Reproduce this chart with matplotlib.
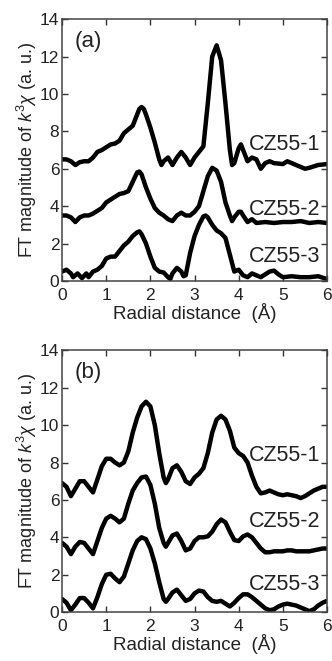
import numpy as np
import matplotlib
matplotlib.use("Agg")
from matplotlib import pyplot as plt

plt.rcParams['font.family'] = ['Liberation Sans', 'DejaVu Sans']
plt.rcParams['mathtext.fontset'] = 'custom'
plt.rcParams['mathtext.it'] = 'Liberation Sans:italic'
plt.rcParams['mathtext.rm'] = 'Liberation Sans'

# ---- panel (a) ----
a1_x = [0, 0.1, 0.2, 0.3, 0.4, 0.5, 0.6, 0.7, 0.8, 0.9, 1.0, 1.1, 1.2, 1.3, 1.4, 1.5, 1.6, 1.7, 1.75, 1.8,
        1.85, 1.9, 2.0, 2.1, 2.2, 2.25, 2.3, 2.4, 2.5, 2.6, 2.7, 2.8, 2.9, 3.0, 3.1, 3.2, 3.3, 3.4, 3.5, 3.6,
        3.7, 3.8, 3.85, 3.9, 4.0, 4.05, 4.1, 4.2, 4.3, 4.4, 4.5, 4.6, 4.7, 4.8, 5.0, 5.1, 5.2, 5.3, 5.5, 5.6,
        5.8, 6.0]
a1_y = [6.5, 6.5, 6.4, 6.2, 6.35, 6.4, 6.4, 6.6, 6.9, 7.0, 7.15, 7.3, 7.35, 7.5, 7.9, 8.1, 8.3, 8.9, 9.2, 9.3,
        9.2, 8.9, 8.2, 7.4, 6.5, 6.2, 6.4, 6.6, 6.2, 6.6, 6.9, 6.6, 6.2, 6.6, 6.9, 7.2, 9.5, 12.0, 12.6, 11.8,
        9.5, 7.0, 6.2, 6.3, 7.1, 7.3, 7.0, 6.4, 6.6, 6.5, 6.0, 6.3, 6.4, 6.3, 6.25, 6.4, 6.3, 6.2, 6.0, 6.05,
        6.2, 6.25]

a2_x = [0, 0.1, 0.2, 0.3, 0.4, 0.5, 0.6, 0.7, 0.8, 0.9, 1.0, 1.1, 1.2, 1.3, 1.4, 1.5, 1.6, 1.7, 1.75, 1.8,
        1.9, 2.0, 2.1, 2.2, 2.3, 2.4, 2.5, 2.6, 2.7, 2.8, 2.9, 3.0, 3.1, 3.2, 3.3, 3.4, 3.5, 3.6, 3.7, 3.8,
        3.85, 3.9, 4.0, 4.05, 4.1, 4.2, 4.3, 4.4, 4.6, 4.8, 5.0, 5.2, 5.4, 5.6, 5.8, 6.0]
a2_y = [3.5, 3.5, 3.4, 3.15, 3.4, 3.5, 3.5, 3.6, 3.75, 3.9, 4.2, 4.35, 4.5, 4.65, 4.7, 4.8, 5.3, 5.8, 5.85, 5.7,
        5.0, 4.4, 3.9, 3.65, 3.5, 3.3, 3.2, 3.5, 3.65, 3.5, 3.5, 3.7, 4.0, 4.8, 5.6, 6.05, 5.9, 5.3, 4.2, 3.5,
        3.2, 3.4, 3.7, 3.7, 3.5, 3.15, 3.3, 3.1, 3.15, 3.1, 3.15, 3.15, 3.2, 3.1, 3.15, 3.1]

a3_x = [0, 0.1, 0.2, 0.25, 0.35, 0.45, 0.55, 0.6, 0.7, 0.8, 0.9, 1.0, 1.1, 1.2, 1.3, 1.4, 1.5, 1.6, 1.7, 1.75,
        1.8, 1.9, 2.0, 2.1, 2.2, 2.3, 2.4, 2.45, 2.5, 2.6, 2.7, 2.75, 2.8, 2.9, 3.0, 3.1, 3.2, 3.25, 3.3, 3.4,
        3.5, 3.6, 3.7, 3.8, 3.9, 4.0, 4.1, 4.2, 4.3, 4.4, 4.5, 4.6, 4.7, 4.8, 4.9, 5.0, 5.2, 5.4, 5.6, 5.8, 6.0]
a3_y = [0.5, 0.6, 0.4, 0.2, 0.4, 0.15, 0.4, 0.2, 0.5, 0.6, 0.8, 1.2, 1.3, 1.3, 1.6, 1.9, 2.1, 2.4, 2.6, 2.65,
        2.5, 2.0, 1.3, 0.7, 0.5, 0.45, 0.2, 0.1, 0.4, 0.7, 0.5, 0.25, 0.3, 1.5, 2.4, 3.0, 3.45, 3.5, 3.4, 3.0,
        2.7, 2.55, 2.3, 1.4, 0.5, 0.6, 0.3, 0.2, 0.4, 0.3, 0.2, 0.35, 0.5, 0.55, 0.35, 0.2, 0.25, 0.2, 0.2, 0.25, 0.1]

# ---- panel (b) ----
b_x = [0, 0.1, 0.2, 0.3, 0.4, 0.5, 0.6, 0.7, 0.8, 0.9, 1.0, 1.1, 1.2, 1.3, 1.4, 1.5, 1.6, 1.7, 1.8, 1.9,
       2.0, 2.1, 2.2, 2.3, 2.35, 2.4, 2.5, 2.6, 2.7, 2.8, 2.9, 3.0, 3.1, 3.2, 3.3, 3.4, 3.5, 3.6, 3.7, 3.8,
       3.9, 4.0, 4.1, 4.2, 4.3, 4.4, 4.5, 4.6, 4.7, 4.8, 4.9, 5.0, 5.1, 5.2, 5.3, 5.4, 5.5, 5.6, 5.7, 5.8,
       5.9, 6.0]
b1_y = [6.9, 6.7, 6.2, 6.6, 7.0, 7.0, 6.7, 6.4, 7.1, 7.8, 8.2, 8.2, 8.0, 7.85, 8.0, 8.6, 9.6, 10.4, 11.0, 11.25,
        11.0, 10.0, 8.5, 7.2, 6.9, 7.1, 7.7, 7.85, 7.5, 7.0, 6.85, 7.2, 7.4, 7.7, 8.5, 9.6, 10.3, 10.5, 10.3, 9.7,
        8.8, 8.5, 8.35, 8.0, 7.3, 6.7, 6.35, 6.4, 6.5, 6.4, 6.3, 6.25, 6.3, 6.25, 6.2, 6.1, 6.2, 6.35, 6.5, 6.6,
        6.7, 6.7]
b2_y = [3.7, 3.5, 3.1, 3.5, 3.75, 3.7, 3.4, 3.1, 3.8, 4.5, 5.0, 5.15, 5.0, 4.8, 5.0, 5.8, 6.5, 6.9, 7.2, 7.25,
        6.8, 5.8, 4.5, 3.7, 3.5, 3.7, 4.1, 4.2, 3.8, 3.3, 3.4, 3.8, 4.0, 4.0, 4.05, 4.3, 4.7, 4.95, 4.8, 4.3,
        3.85, 3.8, 4.05, 4.15, 4.0, 3.7, 3.4, 3.2, 3.2, 3.25, 3.25, 3.25, 3.3, 3.3, 3.25, 3.25, 3.25, 3.25, 3.3, 3.35,
        3.4, 3.4]
b3_y = [0.7, 0.5, 0.1, 0.4, 0.75, 0.75, 0.5, 0.2, 0.8, 1.5, 2.0, 2.05, 1.8, 1.6, 1.9, 2.6, 3.3, 3.8, 4.0, 3.9,
        3.4, 2.6, 1.6, 0.7, 0.55, 0.7, 1.05, 1.2, 0.9, 0.6, 0.7, 1.0, 1.15, 1.1, 0.8, 0.6, 0.55, 0.6, 0.45, 0.3,
        0.5, 0.75, 0.95, 0.95, 0.8, 0.6, 0.4, 0.2, 0.1, 0.15, 0.3, 0.4, 0.45, 0.4, 0.35, 0.25, 0.15, 0.05, 0.15, 0.35,
        0.5, 0.6]

names = ['CZ55-1', 'CZ55-2', 'CZ55-3']
a_label_y = [7.3, 3.8, 1.3]
b_label_y = [8.4, 4.85, 1.45]

fig = plt.figure(figsize=(3.32, 6.61), dpi=100)
ax_a = fig.add_axes([0.187, 0.575, 0.798, 0.396])
ax_b = fig.add_axes([0.187, 0.074, 0.798, 0.396])

panels = [
    (ax_a, '(a)', [(a1_x, a1_y), (a2_x, a2_y), (a3_x, a3_y)], a_label_y),
    (ax_b, '(b)', [(b_x, b1_y), (b_x, b2_y), (b_x, b3_y)], b_label_y),
]

for ax, tag, series, label_y in panels:
    for (xs, ys) in series:
        ax.plot(xs, ys, color='black', lw=3.2, solid_joinstyle='round', solid_capstyle='round')
    for name, ly in zip(names, label_y):
        ax.text(5.85, ly, name, ha='right', va='center', fontsize=15.5, color='#222222')
    ax.text(0.28, 12.8, tag, ha='left', va='center', fontsize=16, color='#222222')
    ax.set_xlim(0, 6)
    ax.set_ylim(0, 14)
    ax.set_xticks(range(0, 7))
    ax.set_yticks(range(0, 15, 2))
    ax.tick_params(direction='in', top=True, right=True, length=4, width=1,
                   labelsize=12.5, colors='#333333', labelcolor='#222222')
    ax.tick_params(axis='x', pad=5)
    ax.tick_params(axis='y', pad=2)
    for s in ax.spines.values():
        s.set_color('#444444')
        s.set_linewidth(1.1)
    ax.set_xlabel('Radial distance  (Å)', fontsize=13.5, color='#222222', labelpad=0)
    ax.set_ylabel(r'FT magnitude of $k^3\chi$ (a. u.)', fontsize=13, color='#222222', labelpad=1)

fig.savefig('out.png', dpi=100)
